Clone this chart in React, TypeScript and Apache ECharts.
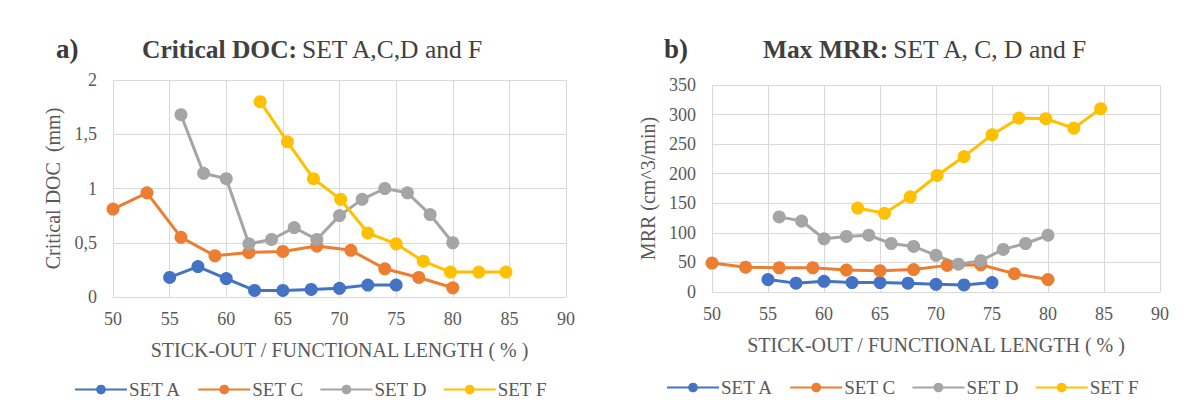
import React, { useEffect, useRef } from "react";
import * as echarts from "echarts";

const setNames = ["SET A", "SET C", "SET D", "SET F"];
const colors = ["#4472C4", "#ED7D31", "#A5A5A5", "#FFC000"];

// Chart a) Critical DOC (mm) vs stick-out (%)
const docA: [number, number][] = [[55, 0.18], [57.5, 0.28], [60, 0.17], [62.5, 0.06], [65, 0.06], [67.5, 0.07], [70, 0.08], [72.5, 0.11], [75, 0.11]];
const docC: [number, number][] = [[50, 0.81], [53, 0.96], [56, 0.55], [59, 0.38], [62, 0.41], [65, 0.42], [68, 0.47], [71, 0.43], [74, 0.26], [77, 0.18], [80, 0.085]];
const docD: [number, number][] = [[56, 1.68], [58, 1.14], [60, 1.09], [62, 0.49], [64, 0.53], [66, 0.64], [68, 0.53], [70, 0.75], [72, 0.9], [74, 1.0], [76, 0.96], [78, 0.76], [80, 0.5]];
const docF: [number, number][] = [[63, 1.8], [65.4, 1.43], [67.7, 1.09], [70.1, 0.9], [72.5, 0.59], [75, 0.49], [77.4, 0.33], [79.8, 0.23], [82.3, 0.23], [84.7, 0.23]];

// Chart b) Max MRR (cm^3/min) vs stick-out (%)
const mrrA: [number, number][] = [[55, 21], [57.5, 15], [60, 18], [62.5, 16], [65, 16], [67.5, 15], [70, 13], [72.5, 12], [75, 16]];
const mrrC: [number, number][] = [[50, 49], [53, 42], [56, 41], [59, 41], [62, 37], [65, 36], [68, 38], [71, 45], [74, 46], [77, 31], [80, 21]];
const mrrD: [number, number][] = [[56, 127], [58, 120], [60, 90], [62, 94], [64, 96], [66, 82], [68, 77], [70, 62], [72, 47], [74, 53], [76, 72], [78, 82], [80, 96]];
const mrrF: [number, number][] = [[63, 142], [65.4, 133], [67.7, 161], [70.1, 197], [72.5, 229], [75, 266], [77.4, 294], [79.8, 293], [82.3, 277], [84.7, 310]];

const xTicks = { min: 50, max: 90, interval: 5 };
const docTicks = { min: 0, max: 2, interval: 0.5 };
const mrrTicks = { min: 0, max: 350, interval: 50 };

const FONT = "'Liberation Serif', 'Times New Roman', serif";
const TXT = "#595959";
const GRID = "#D9D9D9";
const TITLE = "#404040";

export default function App() {
  const ref = useRef<HTMLDivElement>(null);
  useEffect(() => {
    if (!ref.current) return;
    const chart = echarts.init(ref.current, undefined, { renderer: "svg" });
    const mkSeries = (data: [number, number][], i: number, idx: number) => ({
      name: setNames[i],
      type: "line",
      xAxisIndex: idx,
      yAxisIndex: idx,
      data,
      symbol: "circle",
      symbolSize: 13,
      lineStyle: { width: 3, color: colors[i] },
      itemStyle: { color: colors[i] },
    });
    const xAxisBase = (gi: number) => ({
      type: "value",
      gridIndex: gi,
      ...xTicks,
      name: "STICK-OUT / FUNCTIONAL LENGTH ( % )",
      nameLocation: "middle",
      nameGap: 43,
      nameTextStyle: { fontFamily: FONT, fontSize: 20, color: TXT },
      axisLine: { show: true, lineStyle: { color: GRID, width: 1 } },
      axisTick: { show: false },
      axisLabel: { fontFamily: FONT, fontSize: 18, color: TXT, margin: 13 },
      splitLine: { show: true, lineStyle: { color: GRID, width: 1 } },
    });
    const yAxisBase = (gi: number, ticks: any, name: string, gap: number, fmt?: (v: number) => string) => ({
      type: "value",
      gridIndex: gi,
      ...ticks,
      name,
      nameLocation: "middle",
      nameRotate: 90,
      nameGap: gap,
      nameTextStyle: { fontFamily: FONT, fontSize: 20, color: TXT },
      axisLine: { show: false },
      axisTick: { show: false },
      axisLabel: { fontFamily: FONT, fontSize: 18, color: TXT, margin: 16, formatter: fmt },
      splitLine: { show: true, lineStyle: { color: GRID, width: 1 } },
    });
    const legendBase = (left: number, top: number) => ({
      left,
      top,
      itemWidth: 52,
      itemHeight: 12,
      itemGap: 16,
      data: setNames,
      textStyle: { fontFamily: FONT, fontSize: 19, color: TXT, padding: [0, 0, 0, -3] },
    });
    const richTitle = {
      b: { fontFamily: FONT, fontSize: 25.5, fontWeight: "bold", color: TITLE },
      n: { fontFamily: FONT, fontSize: 25.5, fontWeight: "normal", color: TITLE },
    };
    chart.setOption({
      animation: false,
      backgroundColor: "#ffffff",
      title: [
        { text: "a)", left: 51, top: 30, textStyle: { fontFamily: FONT, fontSize: 27, fontWeight: "bold", color: "#3a3a3a" } },
        { text: "{b|Critical DOC:} {n|SET A,C,D and F}", left: 137, top: 31, textStyle: { rich: richTitle } },
        { text: "b)", left: 659, top: 30, textStyle: { fontFamily: FONT, fontSize: 27, fontWeight: "bold", color: "#3a3a3a" } },
        { text: "{b|Max MRR:} {n|SET A, C, D and F}", left: 758, top: 31, textStyle: { rich: richTitle } },
      ],
      legend: [legendBase(69, 375), legendBase(661, 373)],
      grid: [
        { left: 113, right: 625, top: 80, bottom: 108 },
        { left: 712, right: 31, top: 85, bottom: 113 },
      ],
      xAxis: [xAxisBase(0), xAxisBase(1)],
      yAxis: [
        yAxisBase(0, docTicks, "Critical DOC  (mm)", 50, (v: number) => String(v).replace(".", ",")),
        yAxisBase(1, mrrTicks, "MRR (cm^3/min)", 54),
      ],
      series: [
        mkSeries(docA, 0, 0),
        mkSeries(docC, 1, 0),
        mkSeries(docD, 2, 0),
        mkSeries(docF, 3, 0),
        mkSeries(mrrA, 0, 1),
        mkSeries(mrrC, 1, 1),
        mkSeries(mrrD, 2, 1),
        mkSeries(mrrF, 3, 1),
      ],
    });
    return () => chart.dispose();
  }, []);
  return <div ref={ref} style={{ width: 1191, height: 405, position: "absolute", left: 0, top: 0 }} />;
}
